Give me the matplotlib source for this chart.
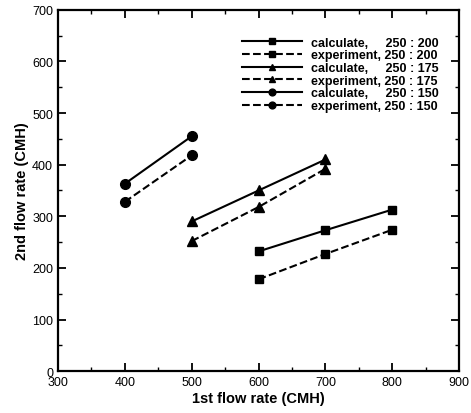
import numpy as np
import matplotlib
matplotlib.use('Agg')
import matplotlib.pyplot as plt
from matplotlib.ticker import MultipleLocator

plt.rcParams['font.family'] = ['Liberation Sans', 'DejaVu Sans']

# data
x_200 = [600, 700, 800]
calc_200 = [232, 273, 313]
exp_200 = [178, 227, 274]

x_175 = [500, 600, 700]
calc_175 = [290, 350, 410]
exp_175 = [252, 318, 392]

x_150 = [400, 500]
calc_150 = [363, 455]
exp_150 = [328, 418]

fig = plt.figure(figsize=(4.71, 4.14), dpi=100)
ax = fig.add_axes([0.123, 0.101, 0.852, 0.873])

ms = 6
ax.plot(x_200, calc_200, 'k-s', lw=1.5, ms=ms, label='calculate,     250 : 200')
ax.plot(x_200, exp_200, 'k--s', lw=1.5, ms=ms, label='experiment, 250 : 200')
ax.plot(x_175, calc_175, 'k-^', lw=1.5, ms=ms + 1, label='calculate,     250 : 175')
ax.plot(x_175, exp_175, 'k--^', lw=1.5, ms=ms + 1, label='experiment, 250 : 175')
ax.plot(x_150, calc_150, 'k-o', lw=1.5, ms=ms + 1, label='calculate,     250 : 150')
ax.plot(x_150, exp_150, 'k--o', lw=1.5, ms=ms + 1, label='experiment, 250 : 150')

ax.set_xlim(300, 900)
ax.set_ylim(0, 700)
ax.xaxis.set_major_locator(MultipleLocator(100))
ax.xaxis.set_minor_locator(MultipleLocator(50))
ax.yaxis.set_major_locator(MultipleLocator(100))
ax.yaxis.set_minor_locator(MultipleLocator(50))
ax.tick_params(which='both', direction='in', top=True, right=True, labelsize=9)
ax.tick_params(which='major', length=6, width=1.3)
ax.tick_params(which='minor', length=3, width=1)
for s in ax.spines.values():
    s.set_linewidth(1.6)

ax.set_xlabel('1st flow rate (CMH)', fontsize=10.5, fontweight='bold', labelpad=2)
ax.set_ylabel('2nd flow rate (CMH)', fontsize=10.5, fontweight='bold', labelpad=2)

leg = ax.legend(loc='upper right', bbox_to_anchor=(0.948, 0.925), frameon=False,
                prop={'size': 9, 'weight': 'bold'}, handlelength=4.8,
                labelspacing=0.05, handletextpad=0.7, markerscale=0.7,
                borderaxespad=0, borderpad=0)

fig.savefig('out.png', dpi=100)
